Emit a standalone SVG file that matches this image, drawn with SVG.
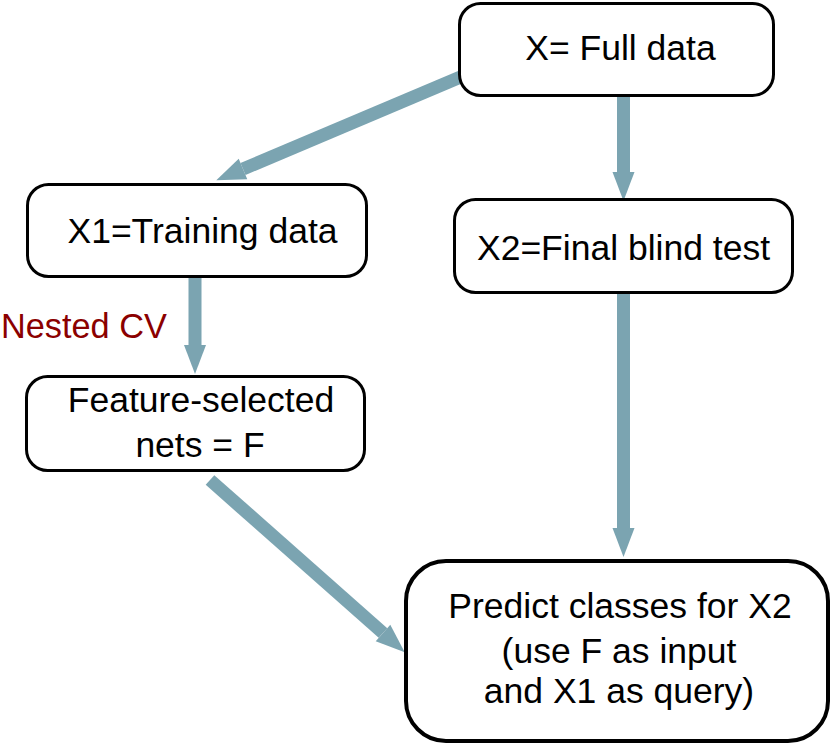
<svg xmlns="http://www.w3.org/2000/svg" width="833" height="746" viewBox="0 0 833 746">
<style>
.box{fill:#fff;stroke:#000;stroke-width:3}
.big{fill:#fff;stroke:#000;stroke-width:4}
.lbl{font-family:"Liberation Sans",Arial,sans-serif;font-size:35.5px;fill:#000;text-anchor:middle}
.red{font-family:"Liberation Sans",Arial,sans-serif;font-size:34.3px;fill:#8B0000;text-anchor:start}
.conn{stroke:#7BA4B1;stroke-width:13;fill:none;stroke-linecap:butt}
</style>
<defs>
<marker id="ah" markerUnits="userSpaceOnUse" viewBox="0 -11 29 22" markerWidth="29" markerHeight="22" refX="0" refY="0" orient="auto" overflow="visible">
<path d="M0,-11 L29,0 L0,11 z" fill="#7BA4B1"/>
</marker>
</defs>
<rect width="833" height="746" fill="#fff"/>
<g id="connectors">
<line class="conn" x1="470" y1="73" x2="243" y2="169" marker-end="url(#ah)"/>
<line class="conn" x1="623.5" y1="94" x2="623.5" y2="172" marker-end="url(#ah)"/>
<line class="conn" x1="195" y1="278" x2="195" y2="345" marker-end="url(#ah)"/>
<line class="conn" x1="623.5" y1="293" x2="623.5" y2="528" marker-end="url(#ah)"/>
<line class="conn" x1="210" y1="480" x2="383" y2="633" marker-end="url(#ah)"/>
</g>
<g id="node-x">
<rect class="box" x="459.5" y="3.5" width="314" height="92" rx="21"/>
<text class="lbl" x="620.5" y="60">X= Full data</text>
</g>
<g id="node-x1">
<rect class="box" x="27.5" y="184.5" width="339" height="92" rx="21"/>
<text class="lbl" x="202.5" y="243">X1=Training data</text>
</g>
<g id="node-x2">
<rect class="box" x="454.5" y="199.5" width="338" height="93" rx="21"/>
<text class="lbl" x="623.5" y="260">X2=Final blind test</text>
</g>
<g id="node-f">
<rect class="box" x="26.5" y="376.5" width="338" height="94" rx="21"/>
<text class="lbl" x="201" y="412">Feature-selected</text>
<text class="lbl" x="200" y="457">nets = F</text>
</g>
<g id="node-predict">
<rect class="big" x="406" y="561" width="422" height="180" rx="40"/>
<text class="lbl" x="620" y="618">Predict classes for X2</text>
<text class="lbl" x="619" y="663">(use F as input</text>
<text class="lbl" x="619" y="703">and X1 as query)</text>
</g>
<g id="label-nested">
<text class="red" x="1" y="338">Nested CV</text>
</g>
</svg>
